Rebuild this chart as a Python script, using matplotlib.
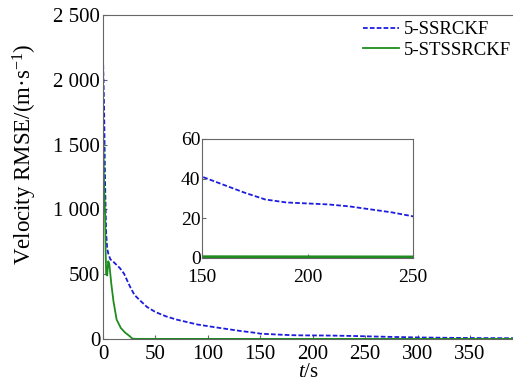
import numpy as np
import matplotlib
matplotlib.use('Agg')
import matplotlib.pyplot as plt

plt.rcParams['font.family'] = ['Liberation Serif', 'DejaVu Serif']
plt.rcParams['mathtext.fontset'] = 'custom'
plt.rcParams['mathtext.rm'] = 'Liberation Serif'
plt.rcParams['mathtext.it'] = 'Liberation Serif:italic'

# ---- data ----
t_ss = [0, 1, 2, 3, 4, 5, 7, 10, 16, 20, 26, 30, 35, 42, 50, 60, 70, 80, 90, 105,
        120, 131, 147, 150, 160, 170, 180, 190, 200, 210, 220, 230, 240, 250,
        270, 300, 330, 360, 392]
v_ss = [2170, 1800, 1200, 820, 700, 660, 615, 595, 548, 505, 400, 340, 300, 247, 208,
        175, 150, 131, 112, 93, 75, 62, 46, 41, 37, 33, 29.5, 28, 27.5, 27, 26,
        24.5, 23, 21, 17, 12, 9, 7, 6]

t_st = [0, 1, 2, 2.5, 3, 4, 5, 6, 8, 10, 13, 17, 21, 25, 28, 32, 50, 100, 200, 300, 392]
v_st = [1670, 1200, 950, 700, 500, 490, 600, 580, 420, 290, 150, 85, 50, 25, 3, 1,
        0.8, 0.7, 0.6, 0.5, 0.5]

y_ticks = [0, 500, 1000, 1500, 2000, 2500]
y_labels = ['0', '500', '1 000', '1 500', '2 000', '2 500']
x_ticks = np.arange(0, 351, 50)

blue = '#1c1ce0'
green = '#1e8c1e'
spine_c = '#666666'

fig = plt.figure(figsize=(5.13, 3.83), dpi=100)
ax = fig.add_axes([103 / 513, 44 / 383, 411 / 513, 324 / 383])

ax.plot(t_ss, v_ss, color=blue, ls='--', dashes=(2.6, 1.2), lw=1.3, label='5-SSRCKF')
ax.plot(t_st, v_st, color=green, ls='-', lw=1.3, label='5-STSSRCKF')

ax.set_xlim(0, 392)
ax.set_ylim(0, 2500)
ax.set_xticks(x_ticks)
ax.set_yticks(y_ticks)
ax.set_yticklabels(y_labels)
ax.tick_params(direction='in', length=3, color=spine_c, labelsize=15, pad=2)
ax.tick_params(axis='x', pad=4)
for s in ax.spines.values():
    s.set_color(spine_c)

ax.set_ylabel('Velocity RMSE/(m·s$^{-1}$)', fontsize=16.5)
ax.yaxis.set_label_coords(-0.155, 0.57)
ax.set_xlabel('$\\it{t}$/s', fontsize=15)
ax.xaxis.set_label_coords(0.5, -0.075)

ax.legend(loc='upper left', bbox_to_anchor=(363 / 513, 1 - 21 / 383),
          bbox_transform=fig.transFigure, frameon=False, fontsize=13.5,
          handlelength=1.9, handletextpad=0.3, labelspacing=0.2, borderpad=0,
          borderaxespad=0)

# ---- inset ----
axi = fig.add_axes([202 / 513, 125 / 383, 211 / 513, 119 / 383])
axi.plot(t_ss, v_ss, color=blue, ls='--', dashes=(2.6, 1.2), lw=1.3)
axi.plot(t_st, v_st, color=green, ls='-', lw=2.0)
axi.set_xlim(150, 250)
axi.set_ylim(0, 60)
axi.set_xticks([150, 200, 250])
axi.set_yticks([0, 20, 40, 60])
axi.tick_params(direction='in', length=3, color=spine_c, labelsize=14, pad=1)
axi.tick_params(axis='x', pad=8)
for s in axi.spines.values():
    s.set_color(spine_c)

fig.savefig('out.png', dpi=100)
